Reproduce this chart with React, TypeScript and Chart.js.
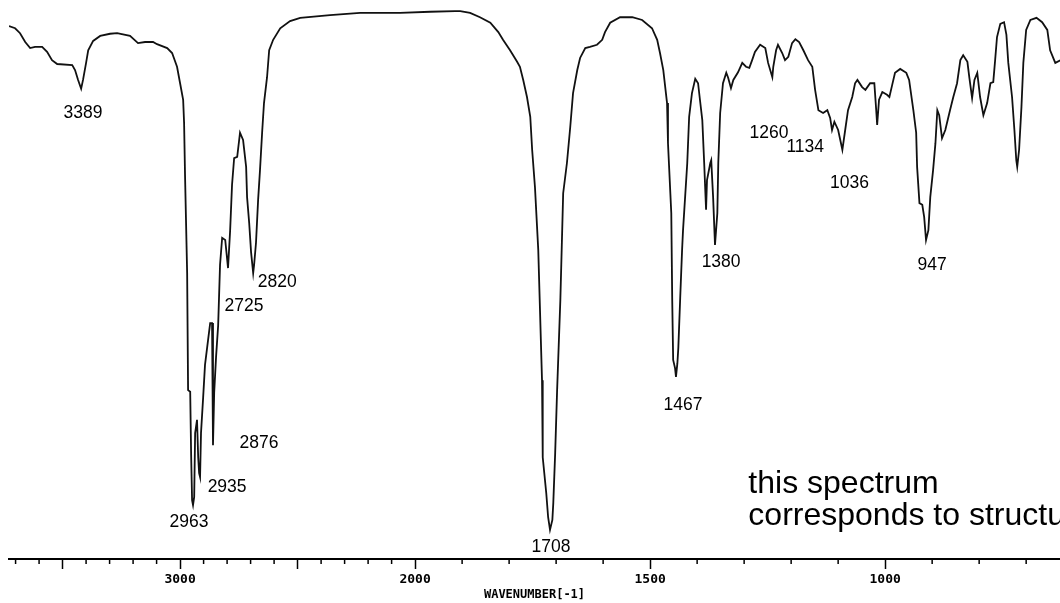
import React, { useEffect, useRef } from "react";
import { Chart, registerables } from "chart.js";

Chart.register(...registerables);

// ---- spectrum data (wavenumber in cm-1, transmittance in %) ----
const wavenumbers = [
  3728, 3702, 3681, 3659, 3638, 3617, 3587, 3566, 3545, 3523,
  3459, 3447, 3434, 3421, 3413, 3400, 3391, 3370, 3340, 3298,
  3268, 3213, 3179, 3149, 3115, 3098, 3055, 3034, 3013, 3000,
  2987, 2983, 2979,
  2970, 2966, 2957, 2953, 2949, 2945, 2940, 2936, 2928, 2923,
  2919, 2915, 2911, 2902, 2894, 2881, 2872, 2864, 2860, 2855,
  2847, 2838, 2830, 2821, 2808, 2796, 2787, 2779, 2770, 2757,
  2745, 2732, 2719, 2715, 2706, 2698, 2689, 2685, 2677, 2668,
  2660, 2651, 2643, 2630, 2621, 2604, 2574, 2532, 2489,
  2362, 2234, 2064, 1968, 1915, 1904, 1883, 1862, 1840, 1823,
  1813, 1798, 1783, 1777, 1770, 1762, 1755, 1751, 1745, 1738,
  1730, 1729, 1728, 1721, 1717, 1713, 1708, 1706, 1702, 1698,
  1691, 1685, 1677, 1670, 1664, 1655, 1649, 1638, 1628, 1613,
  1602, 1596, 1585, 1564, 1538, 1517, 1496, 1485, 1479, 1472,
  1464, 1462, 1455, 1453, 1451, 1447, 1445, 1442, 1440, 1436,
  1432, 1430, 1421, 1417, 1411, 1404, 1398, 1394, 1389, 1385,
  1381, 1379, 1372, 1370, 1366, 1362, 1357, 1355, 1351, 1345,
  1338, 1334, 1328, 1323, 1313, 1304, 1296, 1289, 1283, 1277,
  1266, 1255, 1249, 1240, 1238, 1232, 1228, 1219, 1213, 1206,
  1198, 1191, 1183, 1174, 1164, 1155, 1149, 1142, 1132, 1123,
  1117, 1113, 1108, 1100, 1091, 1085, 1079, 1070, 1064, 1059,
  1049, 1042, 1032, 1023, 1019, 1017, 1013, 1006, 996, 991,
  985, 979, 968, 955, 949, 940, 934, 932, 927, 921,
  917, 913, 908, 904, 898, 893, 889, 885, 879, 872,
  862, 855, 847, 840, 834, 825, 821, 815, 810, 804,
  798, 791, 783, 776, 770, 766, 762, 755, 747, 742,
  738, 730, 725, 721, 719, 715, 710, 706, 700, 691,
  678, 666, 655, 649, 638, 627, 617,
];

const transmittance = [
  96.9, 96.5, 95.6, 94.0, 92.9, 93.1, 93.1, 92.2, 90.7, 90.0,
  89.8, 88.9, 87.1, 85.5, 87.1, 90.2, 92.5, 94.2, 95.1, 95.5,
  95.6, 95.1, 93.8, 94.0, 94.0, 93.6, 92.9, 92.0, 89.5, 86.5,
  83.5, 79.3, 69.8,
  52.0, 30.7, 30.4, 18.9, 10.7, 9.8, 11.3, 22.9, 25.3, 18.5,
  15.6, 14.9, 22.9, 29.3, 35.3, 39.8, 42.9, 42.9, 20.7, 30.2,
  36.7, 42.5, 53.5, 58.4, 58.0, 52.9, 59.8, 68.0, 72.9, 73.1,
  77.5, 76.2, 71.3, 65.8, 61.1, 55.8, 52.0, 53.5, 57.5, 65.3,
  70.7, 77.5, 82.9, 87.6, 92.5, 94.4, 96.5, 97.8, 98.4,
  98.9, 99.3, 99.3, 99.5, 99.6, 99.6, 99.3, 98.5, 97.5, 95.8,
  94.4, 92.5, 90.4, 89.5, 87.1, 84.0, 80.4, 74.4, 67.6, 56.2,
  32.5, 26.5, 18.5, 12.0, 7.6, 5.3, 7.1, 10.2, 19.3, 30.4,
  47.1, 66.5, 72.0, 78.5, 84.7, 88.9, 91.1, 92.9, 93.1, 93.5,
  94.4, 95.8, 97.5, 98.5, 98.5, 98.0, 96.5, 94.4, 92.0, 88.9,
  82.9, 75.6, 62.9, 47.1, 36.2, 34.7, 33.1, 35.6, 38.4, 47.5,
  56.2, 59.8, 72.0, 80.4, 84.7, 87.3, 86.5, 83.5, 79.8, 72.0,
  63.5, 68.9, 72.0, 72.5, 65.8, 57.1, 62.9, 72.0, 81.1, 86.5,
  88.4, 87.5, 85.6, 87.1, 88.5, 90.2, 89.5, 89.3, 90.7, 92.2,
  93.5, 92.9, 90.2, 87.6, 89.5, 92.5, 93.5, 92.0, 90.7, 91.3,
  93.8, 94.5, 94.0, 92.5, 90.7, 89.5, 85.3, 81.6, 81.1, 81.6,
  80.2, 78.0, 79.5, 78.0, 74.4, 78.0, 81.6, 84.0, 86.5, 87.1,
  85.8, 85.3, 86.5, 86.5, 81.6, 78.9, 83.5, 84.9, 84.4, 84.0,
  86.2, 88.4, 89.1, 88.4, 87.1, 81.6, 77.5, 71.3, 64.7, 64.4,
  62.2, 58.0, 59.8, 65.8, 70.7, 75.6, 81.6, 80.7, 76.5, 78.0,
  81.6, 84.0, 86.5, 90.7, 91.6, 90.4, 87.6, 83.8, 87.1, 88.4,
  84.0, 80.7, 82.9, 86.5, 86.7, 90.7, 94.9, 97.3, 97.6, 95.3,
  90.2, 84.0, 78.0, 72.5, 71.3, 74.4, 82.2, 90.2, 96.2, 98.0,
  98.4, 97.6, 96.2, 92.5, 90.2, 90.7, 90.3,
];

// ---- peak annotations ----
const peakLabels = ["3389", "2963", "2935", "2876", "2725", "2820", "1708", "1467", "1380", "1260", "1134", "1036", "947"];
const peakLabelWavenumbers = [3413, 2962, 2800, 2664, 2728, 2587, 1711, 1430, 1349, 1247, 1170, 1076, 900];
const peakLabelLevels = [81.1, 6.7, 13.1, 21.1, 46.0, 50.4, 2.2, 28.0, 54.0, 77.5, 74.9, 68.4, 53.5];

// ---- axis ticks ----
const tickWavenumbers = [
  3700, 3600, 3500, 3400, 3300, 3200, 3100, 3000, 2900, 2800, 2700, 2600, 2500,
  2400, 2300, 2200, 2100, 2000, 1900, 1800, 1700, 1600, 1500, 1400, 1300, 1200,
  1100, 1000, 900, 800, 700,
];
const majorTickWavenumbers = [3500, 3000, 2500, 2000, 1500, 1000];
const labeledTickWavenumbers = [3000, 2000, 1500, 1000];
const axisTitle = "WAVENUMBER[-1]";
const axisRange = [628, 3728];

// ---- note ----
const noteLines = ["this spectrum", "corresponds to structure"];
const noteWavenumber = 1291;
const noteLevels = [12.0, 6.2];

// scale compression: above 2000 cm-1 the axis is compressed by half
const SPLIT = 2000;
const toAxis = (w: number) => (w <= SPLIT ? w : SPLIT + (w - SPLIT) / 2);
const fromAxis = (t: number) => (t <= SPLIT ? t : SPLIT + (t - SPLIT) * 2);

const annotationPlugin = {
  id: "irAnnotations",
  afterDraw(chart: any) {
    const { ctx, scales } = chart;
    const x = scales.x;
    const y = scales.y;
    const base = chart.chartArea.bottom;
    ctx.save();
    ctx.strokeStyle = "#000";
    ctx.lineWidth = 1.5;
    tickWavenumbers.forEach((w) => {
      if (majorTickWavenumbers.includes(w)) return;
      const px = x.getPixelForValue(toAxis(w));
      ctx.beginPath();
      ctx.moveTo(px, base);
      ctx.lineTo(px, base + 5);
      ctx.stroke();
    });
    ctx.fillStyle = "#000";
    ctx.font = '17.5px "Liberation Sans", Arial, sans-serif';
    ctx.textAlign = "center";
    ctx.textBaseline = "middle";
    peakLabels.forEach((lab, i) => {
      ctx.fillText(
        lab,
        x.getPixelForValue(toAxis(peakLabelWavenumbers[i])),
        y.getPixelForValue(peakLabelLevels[i])
      );
    });
    ctx.font = '32px "Liberation Sans", Arial, sans-serif';
    ctx.textAlign = "left";
    ctx.textBaseline = "alphabetic";
    noteLines.forEach((line, i) => {
      ctx.fillText(line, x.getPixelForValue(toAxis(noteWavenumber)), y.getPixelForValue(noteLevels[i]));
    });
    ctx.restore();
  },
};

export default function App() {
  const canvasRef = useRef<HTMLCanvasElement | null>(null);

  useEffect(() => {
    const canvas = canvasRef.current;
    if (!canvas) return;
    const points = wavenumbers.map((w, i) => ({ x: toAxis(w), y: transmittance[i] }));
    const chart = new Chart(canvas, {
      type: "line",
      data: {
        datasets: [
          {
            data: points,
            borderColor: "#111111",
            borderWidth: 1.8,
            pointRadius: 0,
            tension: 0,
            fill: false,
          },
        ],
      },
      options: {
        animation: false,
        responsive: false,
        events: [],
        layout: { padding: { left: 9, right: 0, top: 9, bottom: 0 } },
        plugins: { legend: { display: false }, tooltip: { enabled: false } },
        scales: {
          x: {
            type: "linear",
            reverse: true,
            min: toAxis(axisRange[0]),
            max: toAxis(axisRange[1]),
            afterBuildTicks: (scale: any) => {
              scale.ticks = tickWavenumbers.map((w) => ({ value: toAxis(w) }));
            },
            afterFit: (scale: any) => {
              scale.height = 44;
            },
            border: { display: true, color: "#000", width: 2 },
            grid: {
              display: true,
              drawOnChartArea: false,
              drawTicks: true,
              tickLength: 10,
              tickWidth: 1.5,
              tickColor: (c: any) =>
                c.tick && majorTickWavenumbers.includes(Math.round(fromAxis(c.tick.value)))
                  ? "#000"
                  : "rgba(0,0,0,0)",
            },
            ticks: {
              autoSkip: false,
              maxRotation: 0,
              minRotation: 0,
              padding: 3,
              color: "#000",
              font: { family: '"DejaVu Sans Mono", monospace', size: 13, weight: "bold" },
              callback: (value: any) => {
                const w = Math.round(fromAxis(Number(value)));
                return labeledTickWavenumbers.includes(w) ? String(w) : "";
              },
            },
            title: {
              display: true,
              text: axisTitle,
              color: "#000",
              font: { family: '"DejaVu Sans Mono", monospace', size: 12, weight: "bold" },
              padding: { top: 0, bottom: 1 },
            },
          },
          y: {
            display: false,
            min: 0,
            max: 100,
          },
        },
      },
      plugins: [annotationPlugin],
    });
    return () => chart.destroy();
  }, []);

  return (
    <div style={{ position: "fixed", left: 0, top: 0, width: 1060, height: 603, background: "#fff" }}>
      <canvas ref={canvasRef} width={1060} height={603} style={{ display: "block" }} />
    </div>
  );
}
